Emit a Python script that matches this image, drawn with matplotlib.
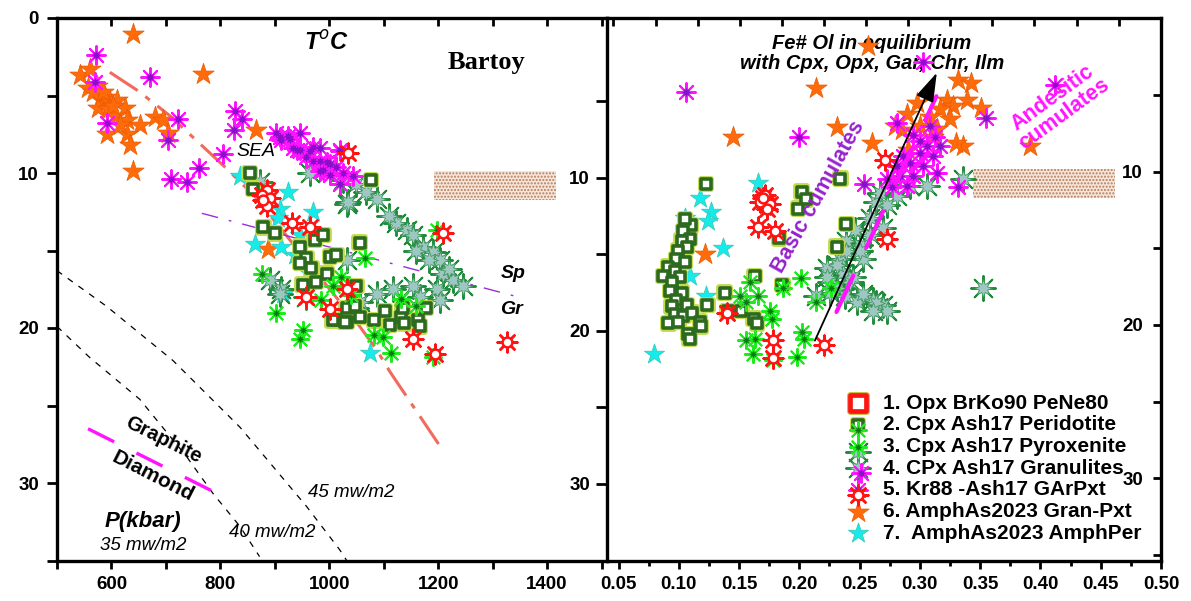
import numpy as np
import matplotlib
matplotlib.use('Agg')
import matplotlib.pyplot as plt
from matplotlib.patches import Rectangle

plt.rcParams['font.family'] = ['Liberation Sans', 'DejaVu Sans']
plt.rcParams['lines.scale_dashes'] = False
plt.rcParams['hatch.linewidth'] = 1.0

# ---- left panel: T (C) vs P (kbar) ----
opx_T = [1035, 885, 876, 891, 886, 879, 931, 965, 1032, 958, 1001, 1153, 1194, 1209, 1326]
opx_P = [8.7, 11.1, 11.4, 11.6, 12.1, 11.75, 13.2, 13.5, 17.5, 18.0, 18.8, 20.7, 21.7, 13.9, 20.9]

per_T = [854, 1077, 860, 879, 900, 973, 989, 1056, 946, 958, 1001, 1013, 946, 967, 995, 951, 976,
         1050, 1032, 1013, 1032, 1056, 1083, 1102, 1111, 1132, 1138, 1163, 1166, 1178, 1135, 1047,
         1006, 1028]
per_P = [10.0, 10.45, 11.0, 13.5, 13.9, 14.3, 14.0, 14.5, 14.75, 15.5, 15.4, 15.3, 15.8, 16.15, 16.5,
         17.2, 17.0, 17.3, 18.7, 19.5, 19.6, 19.3, 19.5, 18.9, 19.8, 19.3, 19.7, 19.5, 19.9, 18.7, 18.7,
         18.6, 19.5, 19.6]

pyx_T = [1065, 1022, 876, 903, 952, 946, 1083, 1099, 1114, 1197, 1006, 1160, 1132, 1190, 985, 1040]
pyx_P = [15.5, 16.7, 16.5, 19.05, 20.1, 20.7, 20.45, 20.6, 21.6, 13.7, 17.3, 18.6, 18.1, 21.85, 18.2, 17.9]

gran_T = [964, 1025, 1050, 1068, 1087, 1032, 873, 1123, 1142, 1154, 1172, 1191, 1203, 1184, 1209, 1227,
          1245, 1197, 1154, 1117, 1087, 1056, 1032, 891, 912, 1166, 1203, 909, 958, 1050, 1034, 1110,
          1160, 1220]
gran_P = [10.0, 10.45, 10.7, 11.2, 11.7, 12.0, 10.6, 13.2, 13.7, 14.0, 14.75, 15.1, 15.6, 15.6, 16.5, 16.9,
          17.3, 17.5, 17.3, 17.5, 17.8, 18.3, 15.6, 16.9, 17.5, 18.0, 18.2, 17.8, 18.0, 18.7, 11.9, 12.8,
          15.0, 16.2]

garpxt_T = [572, 671, 570, 591, 723, 704, 827, 839, 825, 804, 761, 709, 739, 909, 928, 946, 934, 946, 964,
            983, 970, 995, 1013, 983, 1019, 903, 912, 940, 970, 958, 983, 1001, 988, 1001, 1025, 1044,
            1019, 1019, 925]
garpxt_P = [2.4, 3.8, 4.1, 6.8, 6.5, 7.9, 6.0, 6.5, 7.2, 8.8, 9.7, 10.4, 10.6, 7.65, 7.8, 7.4, 8.4, 8.5, 8.6,
            8.4, 9.2, 9.3, 9.6, 9.9, 8.6, 7.4, 7.9, 8.5, 8.3, 8.95, 9.2, 9.4, 9.8, 10.1, 10.0, 10.2, 10.7,
            8.5, 7.6]

amgr_T = [639, 768, 543, 561, 557, 573, 579, 588, 597, 610, 576, 594, 625, 606, 628, 652, 680, 695, 591,
          628, 634, 704, 639, 866, 616, 567, 585, 603, 888]
amgr_P = [1.05, 3.6, 3.7, 3.3, 4.5, 4.4, 5.2, 5.1, 5.4, 5.3, 5.8, 5.9, 5.8, 6.3, 6.6, 6.9, 6.4, 6.6, 7.5,
          7.5, 8.2, 7.4, 9.9, 7.2, 6.9, 4.8, 4.75, 5.7, 14.9]

amper_T = [836, 924, 909, 970, 906, 946, 863, 912, 937, 961, 915, 1074]
amper_P = [10.2, 11.2, 12.3, 12.5, 12.9, 14.0, 14.6, 14.75, 15.3, 16.4, 17.8, 21.6]

# geotherms and phase boundaries
geo_a_T = [500, 591, 713, 836, 958, 1019, 1032]
geo_a_P = [16.3, 18.6, 22.1, 26.4, 31.5, 34.3, 35.0]
geo_b_T = [500, 560, 652, 738, 787, 836, 872]
geo_b_P = [19.9, 21.9, 24.6, 28.3, 30.7, 32.8, 34.75]
sea_T = [597, 649, 707, 811, 863, 1056, 1087, 1111, 1201]
sea_P = [3.5, 4.7, 6.3, 9.7, 11.5, 19.9, 21.4, 22.8, 27.5]
spgr_T = [766, 1347]
spgr_P = [12.6, 18.0]
gd_T = [557, 784]
gd_P = [26.5, 30.5]

# ---- right panel: Fe# Ol vs P (kbar) ----
opx_fe = [0.1715, 0.167, 0.1756, 0.1729, 0.166, 0.1797, 0.14, 0.1783, 0.1783, 0.2206, 0.271, 0.2724, 0.17]
opx_p = [11.1, 11.6, 11.7, 12.0, 13.2, 13.45, 18.8, 20.6, 21.8, 20.9, 8.8, 14.0, 11.3]

per_fe = [0.1225, 0.110, 0.105, 0.1037, 0.109, 0.1024, 0.1065, 0.0996, 0.098, 0.105, 0.0913, 0.0968,
          0.0871, 0.101, 0.0941, 0.0927, 0.1024, 0.098, 0.1065, 0.094, 0.0968, 0.1037, 0.1107, 0.0913,
          0.0996, 0.108, 0.1176, 0.1236, 0.138, 0.1405, 0.152, 0.163, 0.162, 0.183, 0.186, 0.2019,
          0.2054, 0.199, 0.234, 0.239, 0.231, 0.165, 0.109, 0.1185]
per_p = [10.4, 13.1, 12.7, 13.5, 14.0, 14.1, 14.5, 14.75, 15.3, 15.5, 15.8, 16.1, 16.4, 16.5, 16.8, 17.4,
         17.5, 18.0, 18.3, 18.4, 18.9, 19.0, 18.8, 19.5, 19.4, 20.2, 19.4, 18.3, 17.5, 18.7, 18.7, 16.4,
         19.2, 13.95, 17.0, 10.9, 11.4, 12.0, 10.05, 13.0, 14.5, 19.5, 20.5, 19.7]

pyx_fe = [0.159, 0.166, 0.1507, 0.156, 0.1755, 0.177, 0.1866, 0.201, 0.156, 0.163, 0.1617, 0.178, 0.198,
          0.2019, 0.2038, 0.214, 0.2265]
pyx_p = [16.8, 17.7, 17.7, 18.1, 18.7, 19.2, 17.2, 16.55, 20.6, 20.5, 21.5, 21.9, 21.7, 20.1, 20.5, 18.1, 17.2]

gran_fe = [0.214, 0.2226, 0.2253, 0.2336, 0.2364, 0.242, 0.2309, 0.2378, 0.253, 0.2612, 0.2695, 0.2475,
           0.253, 0.250, 0.264, 0.2695, 0.2668, 0.239, 0.2806, 0.2916, 0.3055, 0.336, 0.3524, 0.2585,
           0.250, 0.239, 0.231, 0.2447, 0.2226, 0.253, 0.264, 0.2724, 0.2612, 0.2253, 0.2724, 0.2585,
           0.246]
gran_p = [17.7, 15.9, 16.8, 15.3, 16.2, 16.8, 17.2, 17.7, 17.7, 18.0, 18.3, 18.1, 15.3, 14.4, 11.6, 13.3,
          11.0, 14.1, 11.2, 10.5, 10.5, 10.1, 17.2, 13.75, 14.8, 14.8, 15.7, 16.5, 16.5, 17.6, 18.2, 18.7,
          18.7, 17.5, 11.8, 12.6, 13.4]

garpxt_fe = [0.2538, 0.106, 0.1996, 0.3027, 0.355, 0.412, 0.3313, 0.2806, 0.2944, 0.3082, 0.3124, 0.3165,
             0.3055, 0.300, 0.286, 0.311, 0.2916, 0.3027, 0.3138, 0.2806, 0.2834, 0.2724, 0.2944, 0.2765,
             0.2889, 0.300]
garpxt_p = [10.4, 4.4, 7.3, 2.4, 6.1, 3.9, 10.6, 6.4, 7.2, 6.6, 7.3, 7.9, 7.9, 8.35, 8.6, 8.6, 9.0, 9.2, 9.65,
            9.2, 9.9, 10.1, 9.9, 10.6, 10.5, 7.6]

amgr_fe = [0.1217, 0.2568, 0.2139, 0.145, 0.2314, 0.26, 0.3916, 0.336, 0.2852, 0.3317, 0.3428, 0.3222,
           0.3387, 0.3511, 0.3275, 0.3165, 0.3082, 0.3248, 0.300, 0.3138, 0.2792, 0.2889, 0.311, 0.3303,
           0.2903, 0.2972]
amgr_p = [15.0, 1.4, 4.1, 7.3, 6.7, 7.7, 7.9, 7.9, 6.9, 3.6, 3.8, 4.9, 4.9, 5.4, 5.3, 5.5, 6.0, 6.15, 6.6,
          6.8, 6.6, 5.8, 7.3, 7.7, 8.2, 5.1]

amper_fe = [0.1654, 0.118, 0.127, 0.1245, 0.105, 0.137, 0.109, 0.1225, 0.0794]
amper_p = [10.3, 11.3, 12.2, 12.8, 12.6, 14.6, 16.4, 17.7, 21.5]

# trend arrow and cumulate line
arrow_fe = [0.2129, 0.314]
arrow_p = [20.63, 3.13]
cum_fe = [0.2308, 0.3137]
cum_p = [18.76, 4.66]

legend_labels = ['1. Opx BrKo90 PeNe80', '2. Cpx Ash17 Peridotite', '3. Cpx Ash17 Pyroxenite',
                 '4. CPx Ash17 Granulites', '5. Kr88 -Ash17 GArPxt', '6. AmphAs2023 Gran-Pxt',
                 '7.  AmphAs2023 AmphPer']


# marker styles, one function per series
def draw_opx(ax, x, y, **kw):
    ax.scatter(x, y, marker=(8, 2, 0), s=200, c='#ff1414', linewidths=1.8, zorder=9, **kw)
    ax.scatter(x, y, marker='o', s=50, facecolors='white', edgecolors='#ff1414', linewidths=1.8, zorder=9.1, **kw)


def draw_per(ax, x, y, **kw):
    ax.scatter(x, y, marker='s', s=58, facecolors='none', edgecolors='#c4da4a', linewidths=4.2, zorder=5, **kw)
    ax.scatter(x, y, marker='s', s=58, facecolors='white', edgecolors='#2c6a20', linewidths=2.6, zorder=5.1, **kw)


def draw_pyx(ax, x, y, **kw):
    ax.scatter(x, y, marker=(8, 2, 0), s=150, c='#1eeb1e', linewidths=1.5, zorder=6, **kw)
    ax.scatter(x, y, marker=(8, 1, 0), s=32, c='#0b7a12', linewidths=0, zorder=6.1, **kw)


def draw_gran(ax, x, y, **kw):
    ax.scatter(x, y, marker=(8, 2, 0), s=320, c='#1d8a3a', linewidths=1.4, zorder=4, **kw)
    ax.scatter(x, y, marker=(8, 1, 0), s=160, facecolors='#9ec6c2', edgecolors='#3f9a5c',
               linewidths=0.6, zorder=4.1, **kw)


def draw_garpxt(ax, x, y, **kw):
    ax.scatter(x, y, marker=(8, 2, 0), s=180, c='#ff14ff', linewidths=1.5, zorder=7, **kw)
    ax.scatter(x, y, marker=(8, 1, 0), s=50, c='#8a0fcc', linewidths=0, zorder=7.1, **kw)


def draw_amgr(ax, x, y, **kw):
    ax.scatter(x, y, marker='*', s=260, facecolors='#ff6a0a', edgecolors='#e85a00', linewidths=0.5,
               zorder=3, **kw)


def draw_amper(ax, x, y, **kw):
    ax.scatter(x, y, marker='*', s=230, facecolors='#14ecec', edgecolors='#3cc8b8', linewidths=0.6,
               zorder=3.5, **kw)


def hatch_box(ax, x0, y0, w, h):
    ax.add_patch(Rectangle((x0, y0), w, h, facecolor='#f6e6da', edgecolor='#b87a58',
                           hatch='.....', linewidth=0, zorder=1))


fig = plt.figure(figsize=(11.91, 6.01), dpi=100)
axL = fig.add_axes([57 / 1191, 40.5 / 601, 549.7 / 1191, 542.5 / 601])
axR = fig.add_axes([606.7 / 1191, 40.5 / 601, 554.3 / 1191, 542.5 / 601])

# ---------- left panel ----------
axL.set_xlim(500, 1509.5)
axL.set_ylim(35, 0)
axL.plot(geo_a_T, geo_a_P, color='black', lw=0.9, dashes=(4.5, 5), zorder=2)
axL.plot(geo_b_T, geo_b_P, color='black', lw=0.9, dashes=(4.5, 5), zorder=2)
axL.plot(sea_T, sea_P, color='#f26a5e', lw=2.2, dashes=(24, 7, 4, 7), zorder=2)
axL.plot(spgr_T, spgr_P, color='#9a2fd8', lw=1.0, dashes=(12, 8, 2, 8), zorder=2)
axL.plot(gd_T, gd_P, color='#ff14ff', lw=2.4, dashes=(21, 18), zorder=2)
hatch_box(axL, 1192, 9.9, 225, 1.85)

draw_amgr(axL, amgr_T, amgr_P)
draw_amper(axL, amper_T, amper_P)
draw_gran(axL, gran_T, gran_P)
draw_per(axL, per_T, per_P)
draw_pyx(axL, pyx_T, pyx_P)
draw_garpxt(axL, garpxt_T, garpxt_P)
draw_opx(axL, opx_T, opx_P)

axL.text(995, 1.6, r'T$^{o}$C', fontsize=17, fontweight='bold', fontstyle='italic',
         ha='center', va='center')
axL.text(1288, 2.9, 'Bartoy', fontsize=19, fontweight='bold', family='Liberation Serif',
         ha='center', va='center')
axL.text(866, 8.6, 'SEA', fontsize=14, fontstyle='italic', ha='center', va='center')
axL.text(1337, 16.5, 'Sp', fontsize=14, fontweight='bold', fontstyle='italic', ha='center', va='center')
axL.text(1335, 18.8, 'Gr', fontsize=14, fontweight='bold', fontstyle='italic', ha='center', va='center')
axL.text(695, 27.2, 'Graphite', fontsize=14.5, fontweight='bold', rotation=-26.5,
         rotation_mode='anchor', ha='center', va='center')
axL.text(676, 29.6, 'Diamond', fontsize=15, fontweight='bold', rotation=-27,
         rotation_mode='anchor', ha='center', va='center')
axL.text(658, 32.5, 'P(kbar)', fontsize=16, fontweight='bold', fontstyle='italic', ha='center', va='center')
axL.text(658, 34.0, '35 mw/m2', fontsize=13.5, fontstyle='italic', ha='center', va='center')
axL.text(896, 33.2, '40 mw/m2', fontsize=13.5, fontstyle='italic', ha='center', va='center')
axL.text(1041, 30.6, '45 mw/m2', fontsize=13.5, fontstyle='italic', ha='center', va='center')

axL.set_xticks(np.arange(600, 1401, 200))
axL.set_xticks(np.arange(500, 1501, 100), minor=True)
axL.set_yticks([0, 10, 20, 30])
axL.set_yticks([5, 15, 25, 35], minor=True)
axL.tick_params(axis='both', which='both', direction='out', width=2, labelsize=13.5)
axL.tick_params(axis='x', which='both', length=6, pad=5)
axL.tick_params(axis='y', which='both', length=7, pad=6)
for lbl in axL.get_xticklabels() + axL.get_yticklabels():
    lbl.set_fontweight('bold')
axL.spines['right'].set_visible(False)
for side in ['left', 'top', 'bottom']:
    axL.spines[side].set_linewidth(2.4)

axLt = axL.twiny()
axLt.set_xlim(axL.get_xlim())
axLt.set_xticks(np.arange(500, 1501, 100))
axLt.tick_params(axis='x', direction='in', length=6, width=2, labeltop=False)
for sp in axLt.spines.values():
    sp.set_visible(False)

# ---------- right panel ----------
axR.set_xlim(0.0402, 0.5)
axR.set_ylim(34.85, -0.45)
hatch_box(axR, 0.344, 9.44, 0.118, 1.89)

draw_per(axR, per_fe, per_p)
draw_amper(axR, amper_fe, amper_p)
draw_amgr(axR, amgr_fe, amgr_p)
draw_gran(axR, gran_fe, gran_p)
draw_pyx(axR, pyx_fe, pyx_p)
draw_garpxt(axR, garpxt_fe, garpxt_p)
draw_opx(axR, opx_fe, opx_p)

axR.plot(cum_fe, cum_p, color='#ff14ff', lw=3.0, dashes=(29, 22), solid_capstyle='round',
         dash_capstyle='round', zorder=8)
axR.annotate('', xy=(arrow_fe[1], arrow_p[1]), xytext=(arrow_fe[0], arrow_p[0]),
             arrowprops=dict(arrowstyle='-|>,head_length=1.2,head_width=0.38', color='black',
                             lw=1.3, mutation_scale=15, shrinkA=0, shrinkB=0), zorder=9.5)

axR.text(0.26, 1.85, 'Fe# Ol in equilibrium\nwith Cpx, Opx, Gar, Chr, Ilm', fontsize=14.5,
         fontweight='bold', fontstyle='italic', ha='center', va='center', linespacing=1.05, zorder=2)
axR.text(0.216, 11.26, 'Basic cumulates', fontsize=15.5, fontweight='bold', color='#9622cc',
         rotation=61, rotation_mode='anchor', ha='center', va='center', zorder=10)
axR.text(0.415, 5.3, 'Andesitic\ncumulates', fontsize=15.5, fontweight='bold', color='#ff14ff',
         rotation=36, rotation_mode='anchor', ha='center', va='center', linespacing=0.95, zorder=10)

axR.set_xticks(np.arange(0.05, 0.501, 0.05))
axR.set_xticks(np.arange(0.05, 0.501, 0.025), minor=True)
axR.set_xticklabels(['%.2f' % v for v in np.arange(0.05, 0.501, 0.05)])
axR.set_yticks([10, 20, 30])
axR.set_yticks([5, 15, 25, 35], minor=True)
axR.tick_params(axis='both', which='both', direction='out', width=2, labelsize=13.5)
axR.tick_params(axis='x', which='major', length=6, pad=5)
axR.tick_params(axis='x', which='minor', length=3.5)
axR.tick_params(axis='y', which='both', length=8, pad=4)
for lbl in axR.get_xticklabels() + axR.get_yticklabels():
    lbl.set_fontweight('bold')
for sp in axR.spines.values():
    sp.set_linewidth(2.4)

axRt = axR.twiny()
axRt.set_xlim(0, 554.3)
axRt.set_xticks(6.7 + 42.1 * np.arange(0, 13))
axRt.tick_params(axis='x', direction='in', length=6, width=2, labeltop=False)
for sp in axRt.spines.values():
    sp.set_visible(False)

axRr = axR.twinx()
axRr.set_ylim(35.36, -0.02)
axRr.set_yticks([10, 20, 30])
axRr.set_yticks([5, 15, 25, 35], minor=True)
axRr.tick_params(axis='y', which='both', direction='in', length=6, width=2, labelsize=13.5, pad=-13)
for lbl in axRr.get_yticklabels():
    lbl.set_fontweight('bold')
    lbl.set_horizontalalignment('right')
for sp in axRr.spines.values():
    sp.set_visible(False)

# legend drawn by hand in axes fraction
row_y = [(560.5 - (403.3 + 21.67 * i)) / 542.5 for i in range(7)]
mx, tx = 0.4533, 0.4985
dy = 5 / 542.5
leg = dict(transform=axR.transAxes, clip_on=False)
axR.scatter([mx], [row_y[0]], marker='s', s=130, facecolors='none', edgecolors='#c8c040',
            linewidths=5.0, zorder=11, **leg)
axR.scatter([mx], [row_y[0]], marker='s', s=130, facecolors='white', edgecolors='#ff1414',
            linewidths=3.4, zorder=11.1, **leg)
draw_pyx(axR, [mx], [row_y[1] - dy], **leg)
draw_per(axR, [mx], [row_y[1]], **leg)
draw_gran(axR, [mx], [row_y[2] - dy], **leg)
draw_pyx(axR, [mx], [row_y[2]], **leg)
draw_garpxt(axR, [mx + 0.006], [row_y[3] - dy], **leg)
draw_gran(axR, [mx], [row_y[3]], **leg)
draw_opx(axR, [mx], [row_y[4] - dy], **leg)
draw_garpxt(axR, [mx], [row_y[4]], **leg)
draw_amgr(axR, [mx], [row_y[5]], **leg)
draw_amper(axR, [mx], [row_y[6]], **leg)
for y, lab in zip(row_y, legend_labels):
    axR.text(tx, y, lab, transform=axR.transAxes, fontsize=15, fontweight='bold',
             ha='left', va='center', zorder=11)

fig.savefig('out.png', dpi=100)
